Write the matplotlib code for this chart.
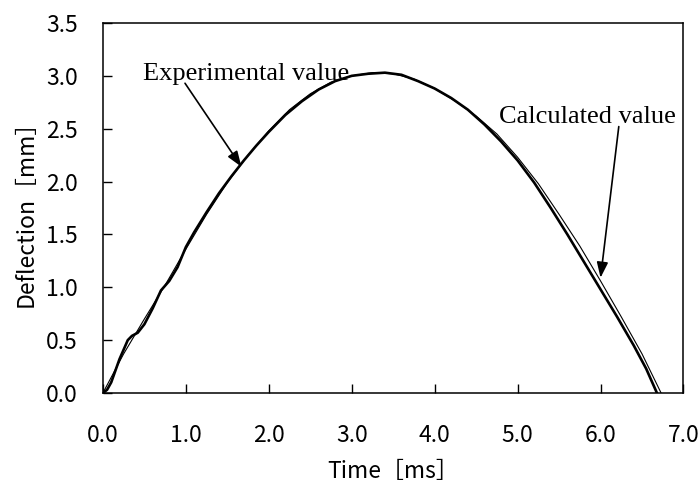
import matplotlib.pyplot as plt

# deflection vs time, measured (thick) and calculated (thin)
exp_t = [0.00, 0.05, 0.10, 0.20, 0.30, 0.35, 0.42, 0.50, 0.60, 0.70, 0.80,
         0.90, 1.00, 1.10, 1.25, 1.40, 1.55, 1.70, 1.85, 2.00, 2.20, 2.40,
         2.60, 2.80, 3.00, 3.20, 3.40, 3.60, 3.80, 4.00, 4.20, 4.40, 4.60,
         4.80, 5.00, 5.20, 5.40, 5.60, 5.80, 6.00, 6.20, 6.40, 6.55, 6.68]
exp_d = [0.00, 0.03, 0.10, 0.32, 0.50, 0.54, 0.57, 0.65, 0.80, 0.97, 1.06,
         1.19, 1.38, 1.52, 1.71, 1.89, 2.05, 2.20, 2.34, 2.47, 2.63, 2.76,
         2.87, 2.95, 3.00, 3.02, 3.03, 3.01, 2.95, 2.88, 2.79, 2.68, 2.54,
         2.38, 2.20, 1.99, 1.75, 1.50, 1.24, 0.98, 0.72, 0.45, 0.23, 0.00]

calc_t = [0.00, 0.25, 0.50, 0.75, 1.00, 1.25, 1.50, 1.75, 2.00, 2.25, 2.50,
          2.75, 3.00, 3.25, 3.50, 3.75, 4.00, 4.25, 4.50, 4.75, 5.00, 5.25,
          5.50, 5.75, 6.00, 6.25, 6.50, 6.73]
calc_d = [0.00, 0.37, 0.70, 1.02, 1.36, 1.69, 1.99, 2.25, 2.48, 2.68, 2.83,
          2.94, 3.00, 3.03, 3.02, 2.97, 2.88, 2.76, 2.62, 2.45, 2.23, 1.98,
          1.69, 1.39, 1.06, 0.72, 0.37, 0.00]

xticks = [0, 1, 2, 3, 4, 5, 6, 7]
yticks = [0.0, 0.5, 1.0, 1.5, 2.0, 2.5, 3.0, 3.5]

jp = ['Noto Sans CJK JP', 'DejaVu Sans']
serif = 'Liberation Serif'

fig = plt.figure(figsize=(7, 4.88), dpi=100)
ax = fig.add_axes([0.147, 0.1947, 0.8294, 0.7582])

ax.plot(exp_t, exp_d, color='black', lw=1.9, solid_joinstyle='round')
ax.plot(calc_t, calc_d, color='black', lw=0.8)

ax.set_xlim(0, 7)
ax.set_ylim(0, 3.5)
ax.set_xticks(xticks)
ax.set_yticks(yticks)
ax.set_xticklabels(['%.1f' % v for v in xticks], family=jp, fontsize=16.5)
ax.set_yticklabels(['%.1f' % v for v in yticks], family=jp, fontsize=16.5)
ax.tick_params(axis='both', direction='in', length=6.5, width=1, top=False, right=False)
ax.tick_params(axis='x', pad=22)
ax.tick_params(axis='y', pad=18)
for s in ax.spines.values():
    s.set_linewidth(1.1)

ax.set_xlabel('Time［ms］', family=jp, fontsize=16.5, labelpad=10)
ax.set_ylabel('Deflection［mm］', family=jp, fontsize=16.5, labelpad=6)

# labels with arrows pointing at the curves
ax.text(0.48, 2.96, 'Experimental value', family=serif, fontsize=19, ha='left', va='baseline')
ax.text(4.78, 2.55, 'Calculated value', family=serif, fontsize=19, ha='left', va='baseline')
arrow = dict(arrowstyle='-|>,head_length=0.55,head_width=0.2', mutation_scale=17,
             color='black', lw=1.2, shrinkA=0, shrinkB=0)
ax.annotate('', xy=(1.67, 2.14), xytext=(0.99, 2.93), arrowprops=arrow)
ax.annotate('', xy=(6.0, 1.09), xytext=(6.22, 2.52), arrowprops=arrow)

fig.savefig('out.png', dpi=100)
